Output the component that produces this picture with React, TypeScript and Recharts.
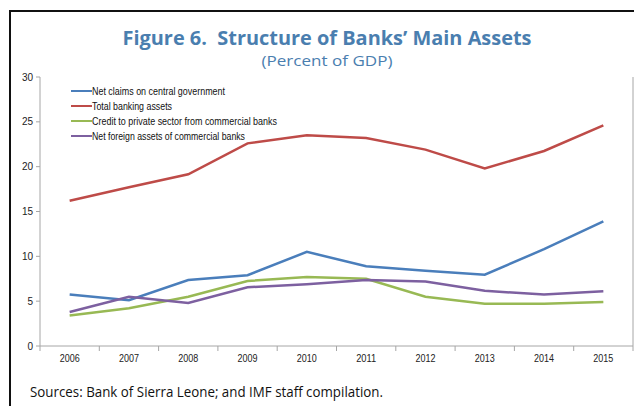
import React from "react";
import { LineChart, Line, XAxis, YAxis } from "recharts";

const years = ["2006", "2007", "2008", "2009", "2010", "2011", "2012", "2013", "2014", "2015"];
const netClaims = [5.75, 5.1, 7.35, 7.9, 10.5, 8.9, 8.4, 7.95, 10.8, 13.9];
const totalAssets = [16.2, 17.7, 19.15, 22.6, 23.5, 23.2, 21.9, 19.8, 21.75, 24.6];
const privateCredit = [3.4, 4.2, 5.5, 7.25, 7.7, 7.5, 5.5, 4.7, 4.7, 4.9];
const foreignAssets = [3.8, 5.5, 4.8, 6.55, 6.9, 7.35, 7.2, 6.15, 5.75, 6.1];
const yTicks = [0, 5, 10, 15, 20, 25, 30];

const series = [
  { key: "netClaims", name: "Net claims on central government", color: "#4A7EBB", textW: 133 },
  { key: "totalAssets", name: "Total banking assets", color: "#BE4B48", textW: 80 },
  { key: "privateCredit", name: "Credit to private sector from commercial banks", color: "#98B954", textW: 185 },
  { key: "foreignAssets", name: "Net foreign assets of commercial banks", color: "#7D60A0", textW: 153 },
];

const data = years.map((year, i) => ({
  year,
  netClaims: netClaims[i],
  totalAssets: totalAssets[i],
  privateCredit: privateCredit[i],
  foreignAssets: foreignAssets[i],
}));

const W = 634;
const H = 406;
const margin = { top: 77, right: 0, left: 10, bottom: 40 };
const PLOT_W = W - margin.left - 30 - margin.right - 1;
const GREY = "#a6a6a6";
const narrow = "'Liberation Sans Narrow', 'Arial Narrow', 'Liberation Sans', sans-serif";

// ticks sit between the categories, like Excel
function XTick(props: any) {
  const { x, y, payload, index } = props;
  const bw = PLOT_W / years.length;
  return (
    <g>
      <line x1={x - bw / 2} x2={x - bw / 2} y1={y} y2={y + 5} stroke={GREY} />
      {index === years.length - 1 && <line x1={x + bw / 2} x2={x + bw / 2} y1={y} y2={y + 5} stroke={GREY} />}
      <text x={x} y={y + 16} textAnchor="middle" fontSize={10} fill="#222" fontFamily={narrow} textLength={20} lengthAdjust="spacingAndGlyphs">
        {payload.value}
      </text>
    </g>
  );
}

export default function App() {
  return (
    <div style={{ position: "absolute", left: 0, top: 0, width: W, height: H, background: "#fff", overflow: "hidden" }}>
      <div style={{ position: "absolute", left: 9, top: 10, width: 700, height: 500, borderLeft: "2px solid #111", borderTop: "2px solid #111" }} />
      <svg width={W} height={H} style={{ position: "absolute", left: 0, top: 0 }}>
        <text x={327} y={45} textAnchor="middle" fontSize={19} fontWeight="bold" fill="#4A7EAF" fontFamily="'Open Sans', sans-serif" textLength={409} lengthAdjust="spacingAndGlyphs">
          {"Figure 6.\u00a0 Structure of Banks’ Main Assets"}
        </text>
        <text x={327} y={66} textAnchor="middle" fontSize={14.5} fill="#4A7EAF" fontFamily="'Open Sans', sans-serif" textLength={131} lengthAdjust="spacingAndGlyphs">
          (Percent of GDP)
        </text>
        <text x={30} y={397} fontSize={15} fill="#111" fontFamily="'Open Sans', sans-serif" textLength={353} lengthAdjust="spacingAndGlyphs">
          Sources: Bank of Sierra Leone; and IMF staff compilation.
        </text>
      </svg>
      <div style={{ position: "absolute", left: 0, top: 0 }}>
        <LineChart width={W} height={H} data={data} margin={margin}>
          <XAxis xAxisId="bottom" dataKey="year" scale="band" height={20} tickSize={0} tickMargin={0} tickLine={false} axisLine={{ stroke: GREY }} tick={(p: any) => <XTick {...p} />} interval={0} />
          <XAxis xAxisId="top" dataKey="year" scale="band" orientation="top" height={0} tick={false} tickLine={false} axisLine={{ stroke: GREY }} />
          <YAxis yAxisId="left" width={30} domain={[0, 30]} ticks={yTicks} interval={0} tickSize={4} tickMargin={3} tickLine={{ stroke: GREY }} axisLine={{ stroke: GREY }} tick={{ fontSize: 10, fill: "#222", fontFamily: narrow }} />
          <YAxis yAxisId="right" orientation="right" width={1} domain={[0, 30]} tick={false} tickLine={false} axisLine={{ stroke: GREY }} />
          {series.map((s) => (
            <Line key={s.key} xAxisId="bottom" yAxisId="left" dataKey={s.key} name={s.name} stroke={s.color} strokeWidth={2.5} dot={false} activeDot={false} isAnimationActive={false} />
          ))}
        </LineChart>
      </div>
      {/* legend, drawn by hand in the top-left of the plot */}
      <svg width={W} height={H} style={{ position: "absolute", left: 0, top: 0, pointerEvents: "none" }}>
        {series.map((s, i) => (
          <g key={s.key}>
            <line x1={71} x2={92} y1={91 + i * 15} y2={91 + i * 15} stroke={s.color} strokeWidth={2} />
            <text x={92} y={95 + i * 15} fontSize={11} fill="#111" fontFamily={narrow} textLength={s.textW} lengthAdjust="spacingAndGlyphs">
              {s.name}
            </text>
          </g>
        ))}
      </svg>
    </div>
  );
}
